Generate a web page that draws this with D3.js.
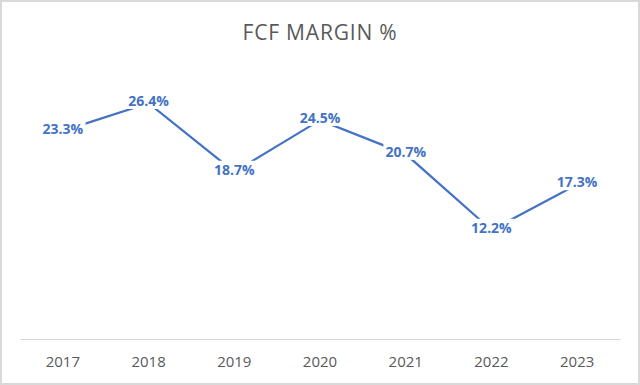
<!DOCTYPE html>
<html>
<head>
<meta charset="utf-8">
<script src="https://cdn.jsdelivr.net/npm/d3@7"></script>
<style>
  body { margin: 0; background: #fff; }
  svg { display: block; }
</style>
</head>
<body>
<div id="app"></div>
<script>
// Chart data
const years = ["2017", "2018", "2019", "2020", "2021", "2022", "2023"];
const fcfMargin = [23.3, 26.4, 18.7, 24.5, 20.7, 12.2, 17.3];
const chartTitle = "FCF MARGIN %";

const width = 640, height = 385;
const margin = { top: 71, right: 20, bottom: 46, left: 20 };
const blue = "#4472C4", grey = "#595959";

const svg = d3.select("#app").append("svg")
  .attr("width", width)
  .attr("height", height);

// outer frame
svg.append("rect")
  .attr("x", 1).attr("y", 1)
  .attr("width", width - 2).attr("height", height - 2)
  .attr("fill", "#fff")
  .attr("stroke", "#d9d9d9")
  .attr("stroke-width", 2);

const x = d3.scaleBand()
  .domain(years)
  .range([margin.left, width - margin.right]);

const y = d3.scaleLinear()
  .domain([0, 30])
  .range([height - margin.bottom, margin.top]);

// title
svg.append("text")
  .attr("x", width / 2)
  .attr("y", 40)
  .attr("text-anchor", "middle")
  .attr("font-family", "Open Sans, sans-serif")
  .attr("font-size", 21)
  .attr("letter-spacing", 0.8)
  .attr("fill", grey)
  .text(chartTitle);

// x axis
const xAxis = svg.append("g")
  .attr("transform", `translate(0,${height - margin.bottom})`)
  .call(d3.axisBottom(x).tickSize(0).tickPadding(17));
xAxis.select(".domain").attr("stroke", "#d9d9d9");
xAxis.selectAll("text")
  .attr("font-family", "Open Sans, sans-serif")
  .attr("font-size", 15)
  .attr("fill", grey);

const cx = d => x(d) + x.bandwidth() / 2;

// series line
const line = d3.line()
  .x((d, i) => cx(years[i]))
  .y(d => y(d));

svg.append("path")
  .datum(fcfMargin)
  .attr("fill", "none")
  .attr("stroke", blue)
  .attr("stroke-width", 2.25)
  .attr("d", line);

// data labels, centred on points with white backing
const labels = svg.append("g").selectAll("g")
  .data(fcfMargin)
  .join("g")
  .attr("transform", (d, i) => `translate(${cx(years[i])},${y(d)})`);

labels.append("text")
  .attr("text-anchor", "middle")
  .attr("dy", "0.2em")
  .attr("font-family", "Open Sans, sans-serif")
  .attr("font-weight", "bold")
  .attr("font-size", 14)
  .attr("fill", blue)
  .text(d => d.toFixed(1) + "%");

labels.each(function() {
  const g = d3.select(this);
  const bb = g.select("text").node().getBBox();
  g.insert("rect", "text")
    .attr("x", bb.x - 2).attr("y", bb.y + 1)
    .attr("width", bb.width + 4).attr("height", bb.height - 2)
    .attr("fill", "#fff");
});
</script>
</body>
</html>
